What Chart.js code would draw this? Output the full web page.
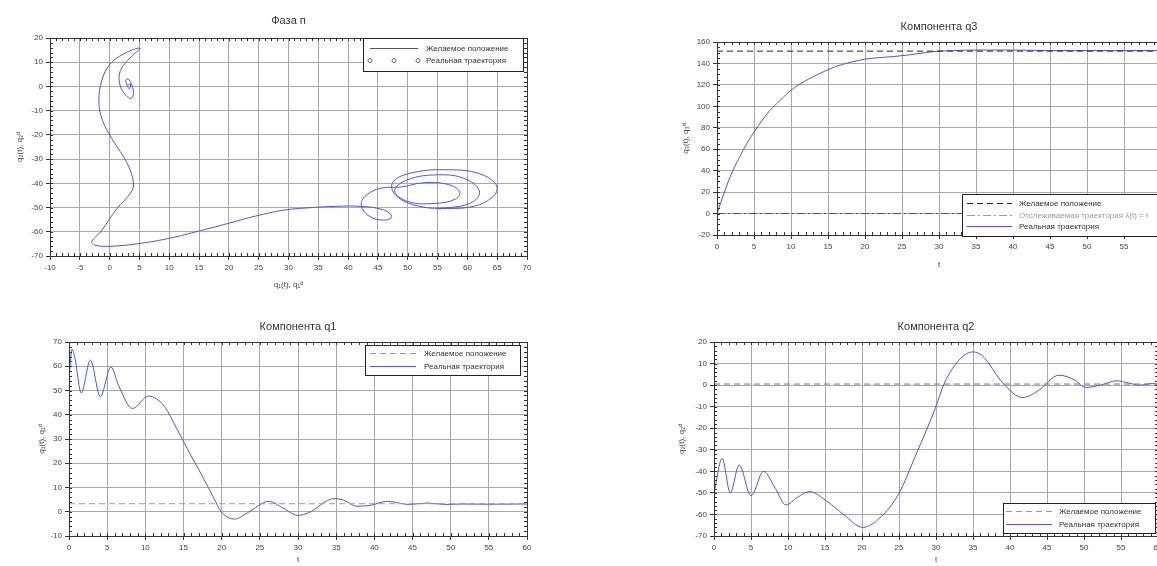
<!DOCTYPE html>
<html lang="ru">
<head>
<meta charset="utf-8">
<title>Фаза и компоненты q1, q2, q3</title>
<script src="https://cdn.jsdelivr.net/npm/chart.js@4.4.1/dist/chart.umd.min.js"></script>
<style>
    html, body { margin: 0; padding: 0; background: #fff; overflow: hidden; }
    body { width: 1157px; height: 566px; position: relative; }
    canvas { position: absolute; }
</style>
</head>
<body>
<canvas id="phaseChart" width="560" height="290" style="left:0;top:0"></canvas>
<canvas id="q3Chart" width="600" height="290" style="left:590px;top:0"></canvas>
<canvas id="q1Chart" width="560" height="276" style="left:0;top:290px"></canvas>
<canvas id="q2Chart" width="600" height="276" style="left:590px;top:290px"></canvas>
<script>
// Données
const seriesLabels = ['Желаемое положение', 'Реальная траектория'];
const referenceLabel = 'Отслеживаемая траектория λ(t) = t';

// Phase : q1 en abscisse, q2 en ordonnée
const phaseQ1 = [55, 61, 64.5, 64.8, 62, 57, 51, 47.5, 48, 52, 57, 61, 62, 59.5, 55, 50, 47.8,
    50, 54.5, 58, 58.7, 56.5, 52.5, 49, 45.5, 43, 42.2, 43.5, 46, 47.3, 46, 42, 38, 34,
    29.4, 24.5, 19.8, 14.5, 9.6, 4.5, 0, -2.5, -3, -1.5, 1.2, 3.5, 4, 3, 0.5, -1.2, -1.8, -1.3, 0, 2.4,
    5.1, 3.5, 1.8, 1.7, 2.5, 3.6, 4, 3.2, 2.7, 3.3, 3.5, 3];
const phaseQ2 = [-50.5, -49.5, -45, -40.5, -36, -34.4, -35.5, -39.5, -45, -49.5, -50, -47.5, -43, -38, -36.5, -38.5, -43,
    -47.5, -48.3, -46.5, -43.3, -40.3, -39.8, -41.5, -42, -45, -49, -53.5, -55.2, -53.8, -51, -49.5, -49.5, -50,
    -51, -53.5, -56.6, -60, -62.9, -65, -66, -65.5, -64, -60, -50.5, -44, -40, -32, -22, -14, -6, 2.5, 9, 13.5,
    15.8, 12, 6.5, 1, -3, -5, -2, 3, 2.5, -1, 1, 0.5];
const phaseTarget = [3.2, 0.5];

// Composante q1
const timeQ1 = [0, 0.4, 0.8, 1.6, 2.8, 4.1, 5.5, 6.5, 8.3, 10.4, 11.5, 12.6, 14, 15, 16, 17, 18, 19, 19.9, 21.7,
    23.4, 26.2, 28, 30, 31.4, 34.7, 35.8, 37.7, 39.4, 41.7, 44.6, 46.9, 49.3, 51.6, 55, 60];
const realQ1 = [55, 67, 63, 49, 62.5, 47.5, 59.7, 52, 42.6, 47.7, 46.5, 43, 35, 29, 23, 17.4, 11.5, 5.5, 0.2, -3,
    -0.4, 4.3, 1.6, -1.5, -0.4, 5.4, 5, 2.3, 2.6, 4.3, 3, 3.6, 3, 3.2, 3.1, 3.2];

// Composante q2
const timeQ2 = [0, 1.1, 2.2, 3.4, 5, 6.7, 8.3, 9.7, 11.3, 12.9, 15.3, 17.5, 20.1, 22.6, 25, 27.2, 29.9, 31.1, 33.3, 35,
    36.2, 39.1, 41.7, 43.9, 46.6, 48.8, 50.2, 52.2, 54.4, 56, 57.5, 59.2, 60];
const realQ2 = [-50.2, -34, -50, -37, -51.3, -40, -48, -55.6, -52, -49.4, -54, -60, -66, -61, -50.2, -33, -10.8, 0.7, 12.3, 15.4,
    13.8, 0.7, -5.8, -2.4, 4.6, 2.3, -1.1, 0, 2, 1, 0, 0.7, 0.5];

// Composante q3
const timeQ3 = [0, 1, 2, 3, 4, 5, 6, 7, 8, 10, 12, 14, 16, 18, 20, 22, 24, 26, 28, 30, 32, 35, 40, 45, 50, 55, 60];
const realQ3 = [0, 20, 38, 52, 65, 76, 86, 95, 102, 115, 124, 131, 137, 141, 144, 145.5, 146.5, 148, 150, 151.5, 152, 152.5, 152.5, 152, 152, 152, 152];

// Consignes (constantes sur tout l'horizon)
const timeSpan = [0, 60];
const desiredQ1 = [3.3, 3.3];
const desiredQ2 = [0.5, 0.5];
const desiredQ3 = [151.5, 151.5];
const referenceQ3 = [0, 0];

// Graduations
const phaseXTicks = [-10, -5, 0, 5, 10, 15, 20, 25, 30, 35, 40, 45, 50, 55, 60, 65, 70];
const phaseYTicks = [-70, -60, -50, -40, -30, -20, -10, 0, 10, 20];
const timeTicks = [0, 5, 10, 15, 20, 25, 30, 35, 40, 45, 50, 55, 60];
const q1Ticks = [-10, 0, 10, 20, 30, 40, 50, 60, 70];
const q2Ticks = [-70, -60, -50, -40, -30, -20, -10, 0, 10, 20];
const q3Ticks = [-20, 0, 20, 40, 60, 80, 100, 120, 140, 160];

const FONT = "'Liberation Sans', 'DejaVu Sans', sans-serif";
const GRID = '#a8a8a8';
const AXIS = '#333';
const BLUE = '#4f4ff2';

const toPoints = (xs, ys) => xs.map((x, i) => ({ x: x, y: ys[i] }));

// Cadre complet autour de la zone de tracé
const framePlugin = {
    id: 'frame',
    afterDatasetsDraw(chart) {
        const { ctx, chartArea: a } = chart;
        ctx.save();
        ctx.strokeStyle = AXIS;
        ctx.lineWidth = 1;
        ctx.strokeRect(Math.round(a.left) + 0.5, Math.round(a.top) + 0.5,
            Math.round(a.right - a.left), Math.round(a.bottom - a.top));
        ctx.restore();
    }
};

// Petites graduations secondaires
const minorTicksPlugin = {
    id: 'minorTicks',
    afterDatasetsDraw(chart, args, opts) {
        if (!opts.xStep) return;
        const { ctx, chartArea: a, scales: { x, y } } = chart;
        ctx.save();
        ctx.strokeStyle = AXIS;
        ctx.lineWidth = 1;
        ctx.beginPath();
        const nx = Math.round((x.max - x.min) / opts.xStep);
        for (let i = 1; i < nx; i++) {
            const px = Math.round(x.getPixelForValue(x.min + i * opts.xStep)) + 0.5;
            ctx.moveTo(px, a.bottom); ctx.lineTo(px, a.bottom - 3);
            ctx.moveTo(px, a.top); ctx.lineTo(px, a.top + 3);
        }
        const ny = Math.round((y.max - y.min) / opts.yStep);
        for (let i = 1; i < ny; i++) {
            const py = Math.round(y.getPixelForValue(y.min + i * opts.yStep)) + 0.5;
            ctx.moveTo(a.left, py); ctx.lineTo(a.left + 3, py);
            ctx.moveTo(a.right, py); ctx.lineTo(a.right - 3, py);
        }
        ctx.stroke();
        ctx.restore();
    }
};

// Légende encadrée façon Scilab
const boxLegendPlugin = {
    id: 'boxLegend',
    afterDraw(chart, args, opts) {
        if (!opts.w) return;
        const ctx = chart.ctx;
        ctx.save();
        ctx.fillStyle = '#fff';
        ctx.fillRect(opts.x, opts.y, opts.w, opts.h);
        ctx.strokeStyle = '#222';
        ctx.lineWidth = 1;
        ctx.strokeRect(opts.x + 0.5, opts.y + 0.5, opts.w, opts.h);
        ctx.font = '8px ' + FONT;
        ctx.textBaseline = 'middle';
        chart.data.datasets.forEach((ds, i) => {
            const y = Math.round(opts.y + opts.pad + opts.rowH * (i + 0.5)) + 0.5;
            const color = ds.legendColor || ds.borderColor;
            ctx.strokeStyle = color;
            if (ds.legendMarker === 'circle') {
                ctx.setLineDash([]);
                [0, 0.5, 1].forEach(f => {
                    ctx.beginPath();
                    ctx.arc(opts.sx0 + f * (opts.sx1 - opts.sx0), y, 2, 0, Math.PI * 2);
                    ctx.stroke();
                });
            } else {
                ctx.setLineDash(ds.borderDash || []);
                ctx.beginPath();
                ctx.moveTo(opts.sx0, y);
                ctx.lineTo(opts.sx1, y);
                ctx.stroke();
            }
            ctx.fillStyle = ds.legendTextColor || '#333';
            ctx.fillText(ds.label, opts.tx, y);
        });
        ctx.restore();
    }
};

Chart.register(framePlugin, minorTicksPlugin, boxLegendPlugin);

class ScilabFigure {
    constructor() {
        this.charts = [];
        this.init();
    }

    init() {
        this.createPhaseChart();
        this.createQ3Chart();
        this.createQ1Chart();
        this.createQ2Chart();
    }

    makeScales(o) {
        const tickFont = { family: FONT, size: 8 };
        const titleFont = { family: FONT, size: 8 };
        return {
            x: {
                type: 'linear', min: o.xMin, max: o.xMax,
                afterBuildTicks: s => { s.ticks = o.xTicks.map(v => ({ value: v })); },
                afterFit: s => { s.height = o.xHeight; },
                grid: { color: GRID, tickLength: 4, tickColor: AXIS },
                border: { color: AXIS },
                ticks: { font: tickFont, color: '#444', padding: 3, maxRotation: 0, autoSkip: false },
                title: { display: true, text: o.xTitle, font: titleFont, color: '#444', padding: { top: 0, bottom: o.xTitlePad } }
            },
            y: {
                type: 'linear', min: o.yMin, max: o.yMax,
                afterBuildTicks: s => { s.ticks = o.yTicks.map(v => ({ value: v })); },
                afterFit: s => { s.width = o.yWidth; },
                grid: { color: GRID, tickLength: 4, tickColor: AXIS },
                border: { color: AXIS },
                ticks: { font: tickFont, color: '#444', padding: 3, autoSkip: false },
                title: { display: true, text: o.yTitle, font: titleFont, color: '#444', padding: { top: o.yTitlePad, bottom: 0 } }
            }
        };
    }

    makeOptions(o) {
        return {
            responsive: false,
            animation: false,
            events: [],
            layout: { padding: { left: 0, right: o.padRight, top: 0, bottom: 0 } },
            scales: this.makeScales(o),
            plugins: {
                legend: { display: false },
                tooltip: { enabled: false },
                title: {
                    display: true, text: o.title, fullSize: false, color: '#333',
                    font: { family: FONT, size: 11, weight: 'normal' },
                    padding: { top: o.titleTop, bottom: o.titleBottom }
                },
                minorTicks: { xStep: o.xMinor, yStep: o.yMinor },
                boxLegend: o.legend
            }
        };
    }

    createPhaseChart() {
        const ctx = document.getElementById('phaseChart');
        this.charts.push(new Chart(ctx, {
            type: 'scatter',
            data: {
                datasets: [{
                    label: seriesLabels[0],
                    data: [{ x: phaseTarget[0], y: phaseTarget[1] }],
                    borderColor: '#555', borderWidth: 1, pointRadius: 0, showLine: true
                }, {
                    label: seriesLabels[1],
                    data: toPoints(phaseQ1, phaseQ2),
                    borderColor: BLUE, borderWidth: 1, pointRadius: 0, showLine: true, tension: 0.4,
                    legendMarker: 'circle', legendColor: '#666'
                }]
            },
            options: this.makeOptions({
                title: 'Фаза п', titleTop: 14.4, titleBottom: 10.4, padRight: 33,
                xMin: -10, xMax: 70, xTicks: phaseXTicks, xHeight: 34, xTitle: 'q₁(t), q₁ᵈ', xTitlePad: 0,
                yMin: -70, yMax: 20, yTicks: phaseYTicks, yWidth: 50, yTitle: 'q₂(t), q₂ᵈ', yTitlePad: 15,
                xMinor: 1, yMinor: 2,
                legend: { x: 363, y: 38, w: 160, h: 33, pad: 4, rowH: 12, sx0: 370, sx1: 418, tx: 426 }
            })
        }));
    }

    createQ3Chart() {
        const ctx = document.getElementById('q3Chart');
        this.charts.push(new Chart(ctx, {
            type: 'scatter',
            data: {
                datasets: [{
                    label: seriesLabels[0],
                    data: toPoints(timeSpan, desiredQ3),
                    borderColor: '#222', borderDash: [6, 4], borderWidth: 1, pointRadius: 0, showLine: true
                }, {
                    label: referenceLabel,
                    data: toPoints(timeSpan, referenceQ3),
                    borderColor: '#555', borderDash: [8, 3, 2, 3], borderWidth: 1, pointRadius: 0, showLine: true,
                    legendColor: '#999', legendTextColor: '#999'
                }, {
                    label: seriesLabels[1],
                    data: toPoints(timeQ3, realQ3),
                    borderColor: BLUE, borderWidth: 1, pointRadius: 0, showLine: true,
                    cubicInterpolationMode: 'monotone'
                }]
            },
            options: this.makeOptions({
                title: 'Компонента q3', titleTop: 20.4, titleBottom: 8.4, padRight: 29,
                xMin: 0, xMax: 60, xTicks: timeTicks, xHeight: 55, xTitle: 't', xTitlePad: 20,
                yMin: -20, yMax: 160, yTicks: q3Ticks, yWidth: 127, yTitle: 'q₃(t), q₃ᵈ', yTitlePad: 91,
                xMinor: 1, yMinor: 5,
                legend: { x: 372, y: 194, w: 240, h: 42, pad: 3, rowH: 11.7, sx0: 377, sx1: 422, tx: 429 }
            })
        }));
    }

    createQ1Chart() {
        const ctx = document.getElementById('q1Chart');
        this.charts.push(new Chart(ctx, {
            type: 'scatter',
            data: {
                datasets: [{
                    label: seriesLabels[0],
                    data: toPoints(timeSpan, desiredQ1),
                    borderColor: '#9a9a9a', borderDash: [6, 4], borderWidth: 1, pointRadius: 0, showLine: true
                }, {
                    label: seriesLabels[1],
                    data: toPoints(timeQ1, realQ1),
                    borderColor: BLUE, borderWidth: 1, pointRadius: 0, showLine: true,
                    cubicInterpolationMode: 'monotone'
                }]
            },
            options: this.makeOptions({
                title: 'Компонента q1', titleTop: 30.4, titleBottom: 8.4, padRight: 33,
                xMin: 0, xMax: 60, xTicks: timeTicks, xHeight: 30, xTitle: 't', xTitlePad: 1,
                yMin: -10, yMax: 70, yTicks: q1Ticks, yWidth: 69, yTitle: 'q₁(t), q₁ᵈ', yTitlePad: 37,
                xMinor: 1, yMinor: 2,
                legend: { x: 365, y: 55, w: 155, h: 30, pad: 2, rowH: 12.7, sx0: 370, sx1: 416, tx: 424 }
            })
        }));
    }

    createQ2Chart() {
        const ctx = document.getElementById('q2Chart');
        this.charts.push(new Chart(ctx, {
            type: 'scatter',
            data: {
                datasets: [{
                    label: seriesLabels[0],
                    data: toPoints(timeSpan, desiredQ2),
                    borderColor: '#777', borderDash: [6, 4], borderWidth: 1, pointRadius: 0, showLine: true,
                    legendColor: '#9a9a9a'
                }, {
                    label: seriesLabels[1],
                    data: toPoints(timeQ2, realQ2),
                    borderColor: BLUE, borderWidth: 1, pointRadius: 0, showLine: true,
                    cubicInterpolationMode: 'monotone'
                }]
            },
            options: this.makeOptions({
                title: 'Компонента q2', titleTop: 30.4, titleBottom: 8.4, padRight: 32,
                xMin: 0, xMax: 60, xTicks: timeTicks, xHeight: 30, xTitle: 't', xTitlePad: 1,
                yMin: -70, yMax: 20, yTicks: q2Ticks, yWidth: 124, yTitle: 'q₂(t), q₂ᵈ', yTitlePad: 87,
                xMinor: 1, yMinor: 2,
                legend: { x: 413, y: 213, w: 152, h: 30, pad: 2, rowH: 12.7, sx0: 416, sx1: 462, tx: 469 }
            })
        }));
    }
}

// Initialiser
new ScilabFigure();
</script>
</body>
</html>
